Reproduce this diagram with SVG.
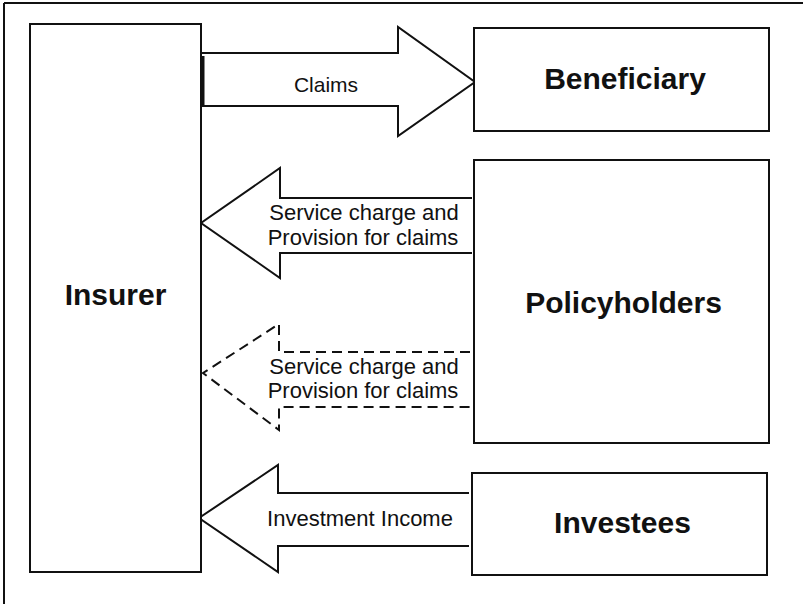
<svg xmlns="http://www.w3.org/2000/svg" width="803" height="606" viewBox="0 0 803 606">
  <defs>
    <linearGradient id="fadeBottom" x1="0" y1="0" x2="1" y2="0">
      <stop offset="0" stop-color="#111"/>
      <stop offset="0.35" stop-color="#333"/>
      <stop offset="1" stop-color="#bbb"/>
    </linearGradient>
  </defs>
  <style>
    .frame { fill: none; stroke: #111; stroke-width: 2; }
    .box { fill: #fff; stroke: #111; stroke-width: 2; }
    .title { font-family: "Liberation Sans", Arial, sans-serif; font-weight: bold; font-size: 30px; fill: #111; text-anchor: middle; }
    .flow { fill: #fff; stroke: #111; stroke-width: 2; stroke-linejoin: miter; }
    .dashed { fill: none; stroke: #111; stroke-width: 2; stroke-dasharray: 10 6; }
    .label { font-family: "Liberation Sans", Arial, sans-serif; font-size: 22px; fill: #111; text-anchor: middle; }
  </style>
  <rect width="803" height="606" fill="#fff"/>

  <!-- outer frame -->
  <g id="frame">
    <line class="frame" x1="4" y1="3" x2="803" y2="3"/>
    <line class="frame" x1="4" y1="3" x2="4" y2="604"/>
    <line x1="4" y1="604" x2="470" y2="604" stroke="url(#fadeBottom)" stroke-width="2"/>
  </g>

  <!-- connectors -->
  <g id="connectors">
    <!-- Claims: Insurer to Beneficiary -->
    <g id="claims">
      <polygon class="flow" points="201,53 398,53 398,27 475,82 398,136 398,106 201,106"/>
      <line x1="202.5" y1="56" x2="202.5" y2="105" stroke="#111" stroke-width="4"/>
      <text class="label" x="326" y="92" style="font-size:21px">Claims</text>
    </g>

    <!-- Service charge: Policyholders to Insurer (solid) -->
    <g id="service-solid">
      <polyline class="flow" points="472,198 280,198 280,168 201,223 280,278 280,253 472,253" fill="#fff"/>
      <text class="label" x="364" y="220">Service charge and</text>
      <text class="label" x="363" y="245">Provision for claims</text>
    </g>

    <!-- Service charge: Policyholders to Insurer (dashed) -->
    <g id="service-dashed">
      <polyline class="dashed" points="470,352 279,352 279,324 203,373 279,430 279,407 470,407"/>
      <text class="label" x="364" y="374">Service charge and</text>
      <text class="label" x="363" y="398">Provision for claims</text>
    </g>

    <!-- Investment income: Investees to Insurer -->
    <g id="investment">
      <polyline class="flow" points="469,493 278,493 278,465 199,518 278,572 278,546 469,546"/>
      <text class="label" x="360" y="526">Investment Income</text>
    </g>
  </g>

  <!-- nodes -->
  <g id="insurer">
    <rect class="box" x="30" y="24" width="171" height="548" fill="none"/>
    <text class="title" x="115.5" y="305">Insurer</text>
  </g>

  <g id="beneficiary">
    <rect class="box" x="474" y="28" width="295" height="103"/>
    <text class="title" x="625" y="89">Beneficiary</text>
  </g>

  <g id="policyholders">
    <rect class="box" x="474" y="160" width="295" height="283"/>
    <text class="title" x="623.5" y="313">Policyholders</text>
  </g>

  <g id="investees">
    <rect class="box" x="472" y="473" width="295" height="102"/>
    <text class="title" x="622.5" y="533">Investees</text>
  </g>
</svg>
